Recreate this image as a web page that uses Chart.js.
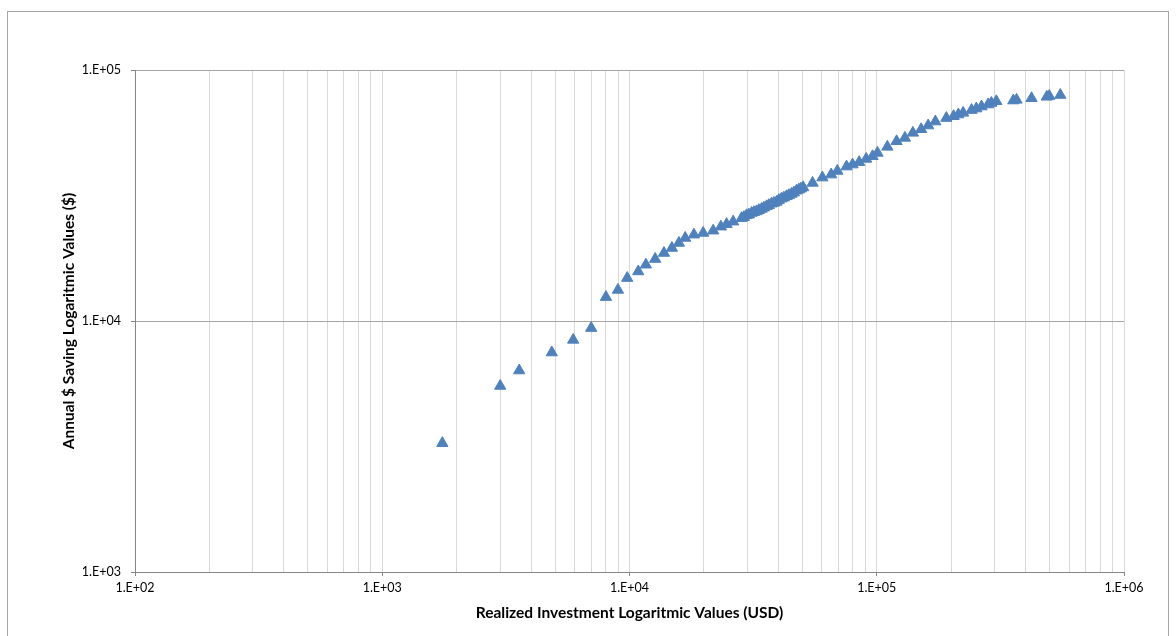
<!DOCTYPE html>
<html>
<head>
<meta charset="utf-8">
<script src="https://cdn.jsdelivr.net/npm/chart.js@4.4.1/dist/chart.umd.min.js"></script>
<style>
  html, body { margin: 0; background: #fff; overflow: hidden; }
  #frame { position: absolute; left: 7px; top: 11px; width: 1160px; height: 640px; border: 1px solid #a6a6a6; }
  #plot  { position: absolute; left: 0; top: 0; }
</style>
</head>
<body>
<div id="frame"></div>
<canvas id="plot" width="1176" height="636"></canvas>
<script>
/* ---- data: realized investment (USD) vs annual saving ($) ---- */
const investment = [
  1750, 3000, 3580, 4850, 5920, 7000, 8030, 8980, 9790, 10850,
  11650, 12700, 13780, 14840, 15840, 16800, 18220, 19860, 21800, 23420,
  24700, 26260, 28400, 29010, 29750, 30400, 31170, 31840, 32650, 33360,
  34210, 34950, 35840, 36610, 37540, 38360, 39330, 40180, 41210, 42100,
  43170, 44110, 45230, 46210, 47390, 48420, 49330, 50400, 55010, 60260,
  65410, 69290, 75490, 79830, 84890, 90620, 96160, 100700, 110400, 120300,
  130000, 140000, 151200, 161400, 172600, 191200, 204600, 213800, 223600, 241800,
  252800, 265300, 282100, 290700, 304500, 356700, 367500, 422700, 487300, 498800,
  552600
];
const saving = [
  3260, 5510, 6350, 7490, 8410, 9370, 12450, 13300, 14830, 15750,
  16760, 17660, 18660, 19540, 20460, 21420, 22080, 22430, 22900, 23760,
  24310, 24880, 25690, 25920, 26360, 26530, 26940, 27140, 27340, 27640,
  27950, 28290, 28630, 28940, 29350, 29540, 29810, 30310, 30730, 31010,
  31380, 31730, 32080, 32470, 33060, 33370, 33680, 34080, 35490, 37260,
  38300, 39620, 41220, 41990, 42950, 44240, 45310, 46740, 49400, 52000,
  53650, 56170, 58060, 60060, 62310, 64340, 65410, 66450, 67490, 69230,
  70200, 71510, 72840, 73860, 75070, 75560, 76050, 77180, 78180, 78750,
  79480
];

/* ---- axis ticks ---- */
const xDecades = [1e2, 1e3, 1e4, 1e5, 1e6];
const yDecades = [1e3, 1e4, 1e5];
const minorSteps = [2, 3, 4, 5, 6, 7, 8, 9];

const xTicks = [];
xDecades.forEach((d, i) => {
  xTicks.push(d);
  if (i < xDecades.length - 1) minorSteps.forEach(m => xTicks.push(d * m));
});

const isDecade = v => Math.abs(Math.log10(v) - Math.round(Math.log10(v))) < 1e-9;
const sci = v => '1.E+' + String(Math.round(Math.log10(v))).padStart(2, '0');

const points = investment.map((x, i) => ({ x, y: saving[i] }));

Chart.defaults.font.family = 'Lato, "Liberation Sans", sans-serif';
Chart.defaults.color = '#000';

new Chart(document.getElementById('plot'), {
  type: 'scatter',
  data: {
    datasets: [{
      data: points,
      pointStyle: 'triangle',
      pointRadius: 6.5,
      pointHoverRadius: 6.5,
      backgroundColor: '#4f81bd',
      borderColor: '#4f81bd',
      borderWidth: 1
    }]
  },
  options: {
    responsive: false,
    animation: false,
    layout: { padding: { top: 70, right: 52, left: 0, bottom: 0 } },
    plugins: { legend: { display: false }, tooltip: { enabled: false } },
    scales: {
      x: {
        type: 'logarithmic',
        min: 1e2, max: 1e6,
        afterBuildTicks: s => { s.ticks = xTicks.map(v => ({ value: v })); },
        afterFit: s => { s.height = 64; },
        ticks: {
          autoSkip: false, maxRotation: 0, padding: 4,
          font: { size: 12.5 },
          callback: v => isDecade(v) ? sci(v) : ''
        },
        grid: {
          color: '#d9d9d9',
          tickLength: 4,
          tickColor: c => (c.tick && isDecade(c.tick.value)) ? '#868686' : 'rgba(0,0,0,0)'
        },
        border: { color: '#868686' },
        title: {
          display: true,
          text: 'Realized Investment Logaritmic Values (USD)',
          font: { size: 15.5, weight: 'bold' },
          padding: { top: 0, bottom: 14 }
        }
      },
      y: {
        type: 'logarithmic',
        min: 1e3, max: 1e5,
        afterBuildTicks: s => { s.ticks = yDecades.map(v => ({ value: v })); },
        afterFit: s => { s.width = 135; },
        ticks: {
          padding: 10,
          font: { size: 12.5 },
          callback: v => sci(v)
        },
        grid: { color: '#a6a6a6', tickLength: 4, tickColor: '#868686' },
        border: { color: '#868686' },
        title: {
          display: true,
          text: 'Annual $ Saving Logaritmic Values ($)',
          font: { size: 15.5, weight: 'bold' },
          padding: { top: 60, bottom: 0 }
        }
      }
    }
  }
});
</script>
</body>
</html>
